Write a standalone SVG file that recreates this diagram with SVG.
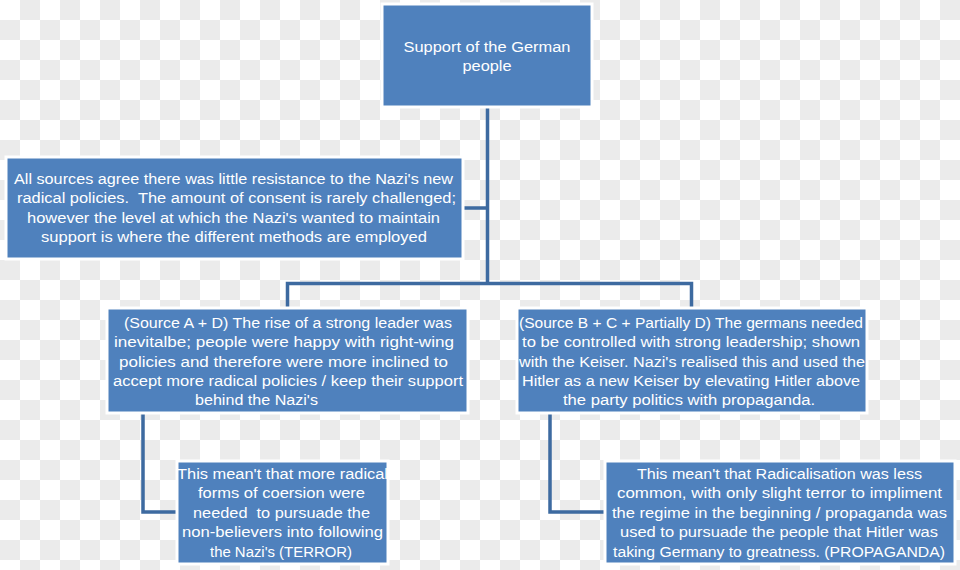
<svg xmlns="http://www.w3.org/2000/svg" width="960" height="570" viewBox="0 0 960 570">
<defs>
<pattern id="chk" x="0" y="0" width="40" height="40" patternUnits="userSpaceOnUse">
<rect width="40" height="40" fill="#ffffff"/>
<rect x="20" y="0" width="20" height="20" fill="#ebebeb"/>
<rect x="0" y="20" width="20" height="20" fill="#ebebeb"/>
</pattern>
</defs>
<style>
.box{fill:#4f81bd;stroke:#ffffff;stroke-width:3}
.t{font-family:"Liberation Sans","DejaVu Sans",sans-serif;font-size:15.5px;fill:#ffffff;text-anchor:middle;white-space:pre}
.c{fill:none;stroke:#3d6aa0;stroke-width:3.5;stroke-linejoin:miter}
</style>
<rect width="960" height="570" fill="url(#chk)"/>
<g id="connectors">
<path class="c" d="M487.5 107 V283.5"/>
<path class="c" d="M463 208 H487.5"/>
<path class="c" d="M287.5 308 V283.5 H691.5 V308"/>
<path class="c" d="M143 413 V512 H176"/>
<path class="c" d="M550 413 V512 H604"/>
</g>
<g id="top">
<rect class="box" x="382" y="4" width="210" height="103"/>
<text class="t" x="487" y="52" textLength="167" lengthAdjust="spacingAndGlyphs">Support of the German</text>
<text class="t" x="487" y="71" textLength="49" lengthAdjust="spacingAndGlyphs">people</text>
</g>
<g id="info">
<rect class="box" x="6" y="157" width="457" height="102"/>
<text class="t" x="233.5" y="184" textLength="439" lengthAdjust="spacingAndGlyphs">All sources agree there was little resistance to the Nazi's new</text>
<text class="t" x="236.5" y="203" textLength="439" lengthAdjust="spacingAndGlyphs" xml:space="preserve">radical policies.  The amount of consent is rarely challenged;</text>
<text class="t" x="233.5" y="223" textLength="413" lengthAdjust="spacingAndGlyphs">however the level at which the Nazi's wanted to maintain</text>
<text class="t" x="234" y="242" textLength="386" lengthAdjust="spacingAndGlyphs">support is where the different methods are employed</text>
</g>
<g id="sourceAD">
<rect class="box" x="107" y="308" width="361" height="105"/>
<text class="t" x="288" y="328" textLength="328" lengthAdjust="spacingAndGlyphs">(Source A + D) The rise of a strong leader was</text>
<text class="t" x="284" y="347" textLength="340" lengthAdjust="spacingAndGlyphs">inevitalbe; people were happy with right-wing</text>
<text class="t" x="283.5" y="367" textLength="329" lengthAdjust="spacingAndGlyphs">policies and therefore were more inclined to</text>
<text class="t" x="288" y="386" textLength="350" lengthAdjust="spacingAndGlyphs">accept more radical policies / keep their support</text>
<text class="t" x="256.5" y="405" textLength="123" lengthAdjust="spacingAndGlyphs">behind the Nazi's</text>
</g>
<g id="sourceBCD">
<rect class="box" x="517" y="308" width="350" height="105"/>
<text class="t" x="691" y="328" textLength="344" lengthAdjust="spacingAndGlyphs">(Source B + C + Partially D) The germans needed</text>
<text class="t" x="691" y="347" textLength="338" lengthAdjust="spacingAndGlyphs">to be controlled with strong leadership; shown</text>
<text class="t" x="692" y="367" textLength="346" lengthAdjust="spacingAndGlyphs">with the Keiser. Nazi's realised this and used the</text>
<text class="t" x="691" y="386" textLength="338" lengthAdjust="spacingAndGlyphs">Hitler as a new Keiser by elevating Hitler above</text>
<text class="t" x="689" y="405" textLength="252" lengthAdjust="spacingAndGlyphs">the party politics with propaganda.</text>
</g>
<g id="terror">
<rect class="box" x="177" y="461" width="211" height="103"/>
<text class="t" x="282.5" y="479" textLength="211" lengthAdjust="spacingAndGlyphs">This mean't that more radical</text>
<text class="t" x="281.5" y="498" textLength="167" lengthAdjust="spacingAndGlyphs">forms of coersion were</text>
<text class="t" x="281.5" y="518" textLength="177" lengthAdjust="spacingAndGlyphs" xml:space="preserve">needed  to pursuade the</text>
<text class="t" x="282.5" y="537" textLength="201" lengthAdjust="spacingAndGlyphs">non-believers into following</text>
<text class="t" x="281" y="557" textLength="142" lengthAdjust="spacingAndGlyphs">the Nazi's (TERROR)</text>
</g>
<g id="propaganda">
<rect class="box" x="605" y="461" width="350" height="103"/>
<text class="t" x="779.5" y="479" textLength="285" lengthAdjust="spacingAndGlyphs">This mean't that Radicalisation was less</text>
<text class="t" x="779.5" y="498" textLength="325" lengthAdjust="spacingAndGlyphs">common, with only slight terror to impliment</text>
<text class="t" x="779.5" y="518" textLength="335" lengthAdjust="spacingAndGlyphs">the regime in the beginning / propaganda was</text>
<text class="t" x="779" y="537" textLength="318" lengthAdjust="spacingAndGlyphs">used to pursuade the people that Hitler was</text>
<text class="t" x="779" y="557" textLength="332" lengthAdjust="spacingAndGlyphs">taking Germany to greatness. (PROPAGANDA)</text>
</g>
</svg>
